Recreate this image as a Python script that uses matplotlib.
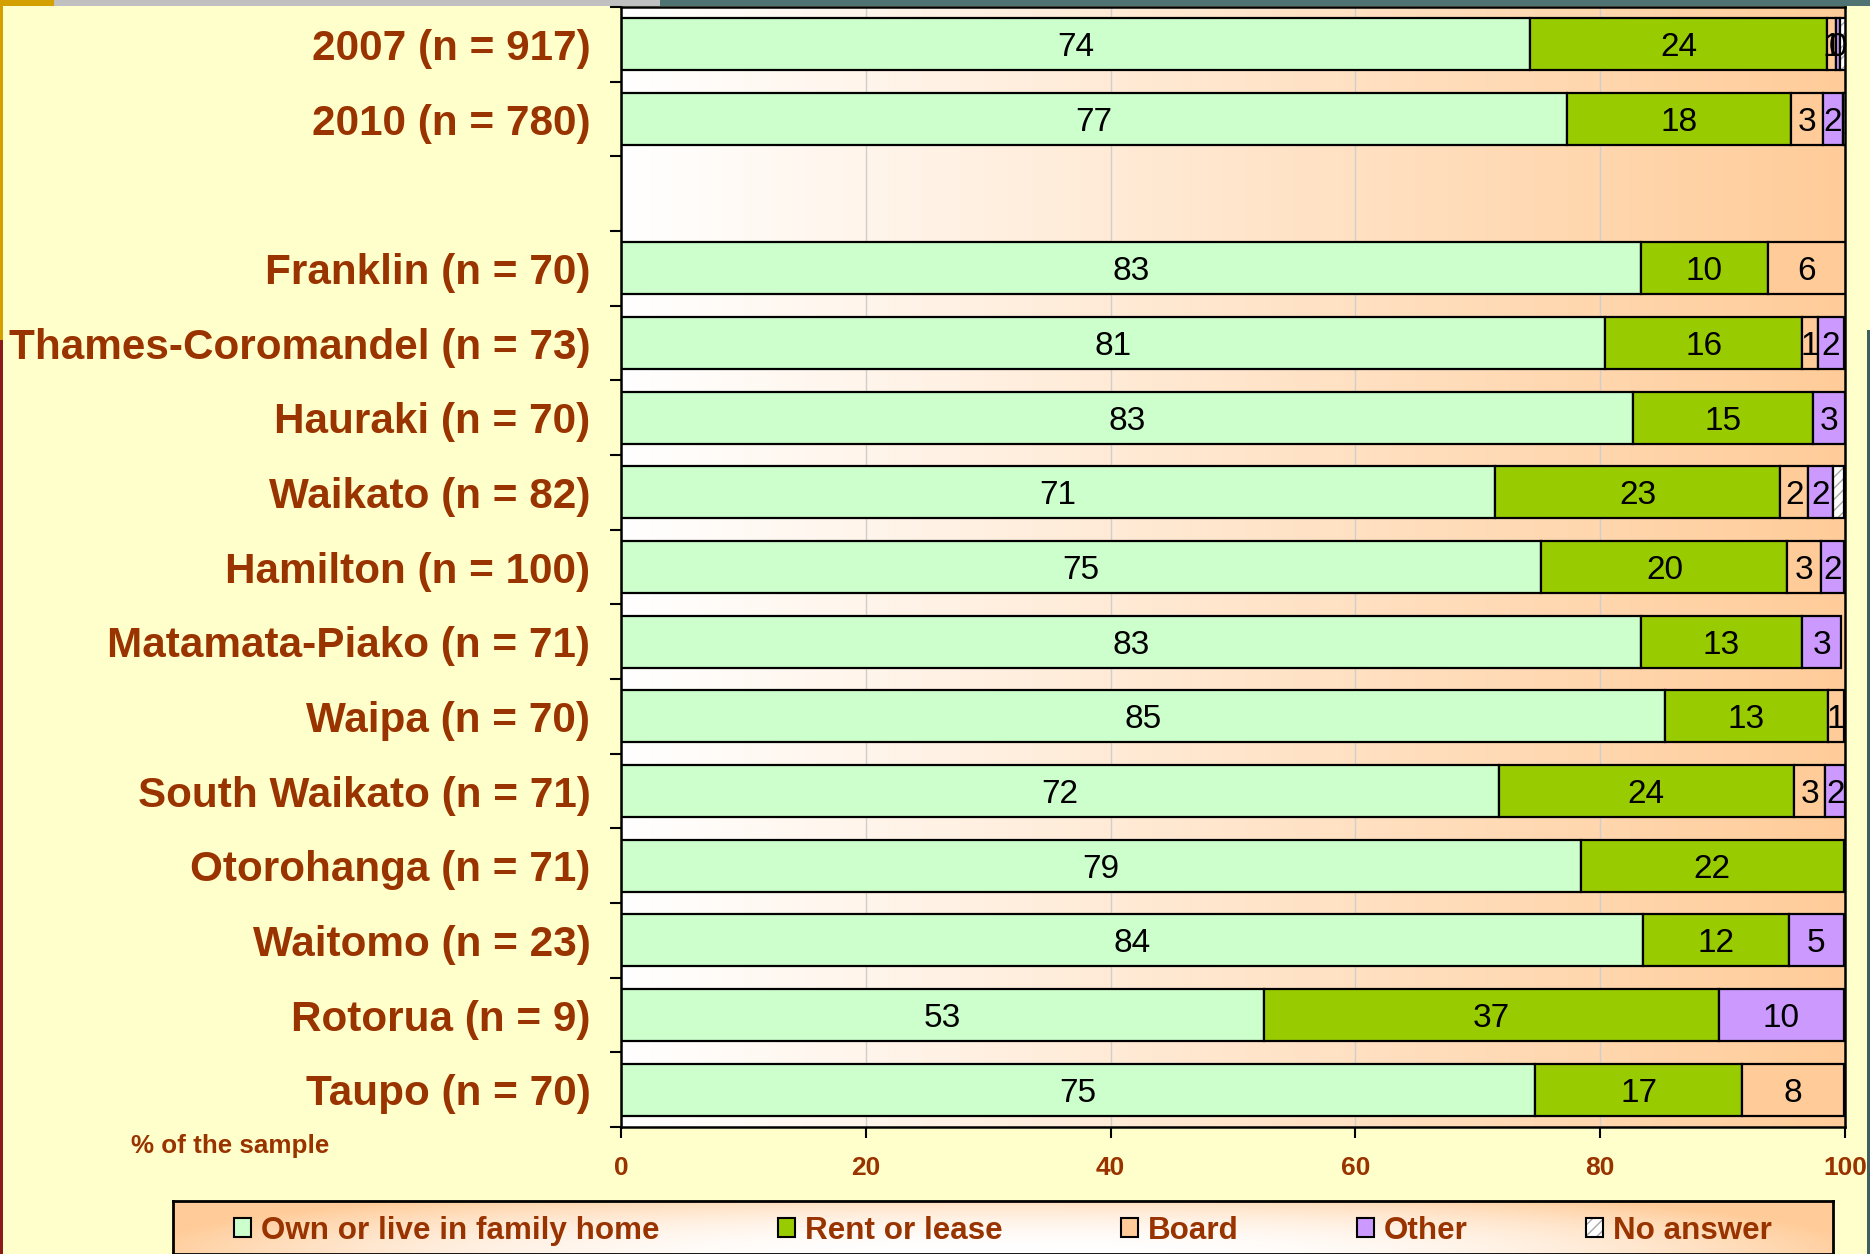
import numpy as np
import matplotlib
matplotlib.use("Agg")
import matplotlib.pyplot as plt
from matplotlib.colors import LinearSegmentedColormap
from matplotlib.patches import Patch, Rectangle

# rows from top to bottom ('' = empty spacer row)
categories = ['2007 (n = 917)', '2010 (n = 780)', '', 'Franklin (n = 70)',
              'Thames-Coromandel (n = 73)', 'Hauraki (n = 70)', 'Waikato (n = 82)',
              'Hamilton (n = 100)', 'Matamata-Piako (n = 71)', 'Waipa (n = 70)',
              'South Waikato (n = 71)', 'Otorohanga (n = 71)', 'Waitomo (n = 23)',
              'Rotorua (n = 9)', 'Taupo (n = 70)']

# segment widths (% of the sample)
own = [74.3, 77.3, 0, 83.3, 80.4, 82.7, 71.4, 75.2, 83.3, 85.3, 71.7, 78.4, 83.5, 52.5, 74.7]
rent = [24.2, 18.3, 0, 10.4, 16.1, 14.7, 23.3, 20.1, 13.2, 13.3, 24.1, 21.5, 11.9, 37.2, 16.9]
board = [0.8, 2.6, 0, 6.4, 1.3, 0, 2.3, 2.7, 0, 1.3, 2.6, 0, 0, 0, 8.3]
other = [0.3, 1.6, 0, 0, 2.1, 2.6, 2.0, 1.9, 3.2, 0, 1.6, 0, 4.5, 10.2, 0]
no_answer = [0.6, 0.3, 0, 0, 0, 0, 0.9, 0, 0, 0, 0, 0, 0, 0, 0]

# data labels as printed on the chart
own_lbl = [74, 77, None, 83, 81, 83, 71, 75, 83, 85, 72, 79, 84, 53, 75]
rent_lbl = [24, 18, None, 10, 16, 15, 23, 20, 13, 13, 24, 22, 12, 37, 17]
board_lbl = [1, 3, None, 6, 1, None, 2, 3, None, 1, 3, None, None, None, 8]
other_lbl = [0, 2, None, None, 2, 3, 2, 2, 3, None, 2, None, 5, 10, None]

series_names = ['Own or live in family home', 'Rent or lease', 'Board', 'Other', 'No answer']
colors = ['#CCFFCC', '#99CC00', '#FFCC99', '#CC99FF', 'white']

BROWN = '#993300'
W, H = 1870, 1254

fig = plt.figure(figsize=(W / 100, H / 100), dpi=100, facecolor='#FFFFCC')

# slide decorations
deco = [((0, H - 6), 54, 6, '#D4A000'), ((54, H - 6), 606, 6, '#C0C0C0'),
        ((660, H - 6), W - 660, 6, '#4F7373'), ((0, H - 340), 3, 334, '#D4A000'),
        ((0, 0), 3, H - 340, '#8B1A1A'), ((W - 3, 0), 3, H - 330, '#3F5F5F')]
for (x, y), w, h, c in deco:
    fig.add_artist(Rectangle((x / W, y / H), w / W, h / H, transform=fig.transFigure,
                             facecolor=c, edgecolor='none', zorder=0))

ax = fig.add_axes([621 / W, 1 - 1127 / H, (1845 - 621) / W, (1127 - 7) / H])
pos = np.arange(len(categories))

grad = LinearSegmentedColormap.from_list('bg', ['#FFFFFF', '#FFCC99'])
ax.imshow(np.linspace(0, 1, 256).reshape(1, -1), extent=[0, 100, len(categories) - 0.5, -0.5],
          cmap=grad, aspect='auto', zorder=0)

data = [np.array(v, dtype=float) for v in (own, rent, board, other, no_answer)]
labels = [own_lbl, rent_lbl, board_lbl, other_lbl, None]
left = np.zeros(len(categories))
bh = 0.7
for vals, col, lbls in zip(data, colors, labels):
    m = vals > 0
    if col == 'white':
        ax.barh(pos[m], vals[m], left=left[m], height=bh, color='white',
                edgecolor='#A8A8A8', hatch='///', linewidth=0, zorder=2)
        ax.barh(pos[m], vals[m], left=left[m], height=bh, fill=False,
                edgecolor='black', linewidth=1.6, zorder=2)
    else:
        ax.barh(pos[m], vals[m], left=left[m], height=bh, color=col,
                edgecolor='black', linewidth=1.6, zorder=2)
    if lbls is not None:
        for i, lb in enumerate(lbls):
            if lb is not None:
                ax.text(left[i] + vals[i] / 2, pos[i], str(lb), ha='center',
                        va='center_baseline', fontsize=24, color='black', zorder=3,
                        family='Liberation Sans')
    left += vals

ax.set_xlim(0, 100)
ax.set_ylim(len(categories) - 0.5, -0.5)
ax.set_axisbelow(True)
ax.xaxis.grid(True, color='#CFCFCF', linewidth=1)
ax.set_xticks(np.arange(0, 101, 20))
ax.set_yticks(pos)
ax.set_yticklabels(categories)
ax.set_yticks(np.arange(-0.5, len(categories)), minor=True)
ax.tick_params(axis='y', which='major', length=0, pad=22)
ax.tick_params(axis='y', which='minor', length=8, width=1.5, direction='out')
ax.tick_params(axis='x', length=8, width=1.5, direction='out', pad=13)
for t in ax.get_yticklabels():
    t.set_fontsize(30.4)
    t.set_fontweight('bold')
    t.set_color(BROWN)
    t.set_family('Liberation Sans')
for t in ax.get_xticklabels():
    t.set_fontsize(19)
    t.set_fontweight('bold')
    t.set_color(BROWN)
    t.set_family('Liberation Sans')
for s in ax.spines.values():
    s.set_linewidth(1.8)
    s.set_color('black')

fig.text(131 / W, 1 - 1146 / H, '% of the sample', ha='left', va='center', fontsize=18.7,
         fontweight='bold', color=BROWN, family='Liberation Sans')

# legend box with gradient fill
lax = fig.add_axes([173 / W, 0, (1833 - 173) / W, (H - 1201) / H])
hx = np.abs(np.linspace(-1, 1, 300)) ** 2.5
vy = np.linspace(1, 0, 60) ** 2
lgrad = np.clip(hx[None, :] * 0.9 + vy[:, None] * 0.6, 0, 1)
lax.imshow(lgrad, cmap=grad, aspect='auto', extent=[0, 1, 0, 1], vmin=0, vmax=1)
lax.set_xticks([])
lax.set_yticks([])
for s in lax.spines.values():
    s.set_linewidth(2)
    s.set_color('black')

handles = [Patch(facecolor=c, edgecolor='black', linewidth=1.5) for c in colors[:4]]
handles.append((Patch(facecolor='white', edgecolor='#A8A8A8', hatch='///', linewidth=0),
                Patch(fill=False, edgecolor='black', linewidth=1.5)))
fig.legend(handles, series_names, loc='center left', bbox_to_anchor=(234 / W, 1 - 1231 / H),
           ncol=5, frameon=False, borderpad=0, borderaxespad=0, handlelength=0.55,
           handleheight=0.55, handletextpad=0.3, columnspacing=3.78,
           prop={'family': 'Liberation Sans', 'weight': 'bold', 'size': 22.6},
           labelcolor=BROWN)

fig.savefig('out.png', dpi=100, facecolor=fig.get_facecolor())
